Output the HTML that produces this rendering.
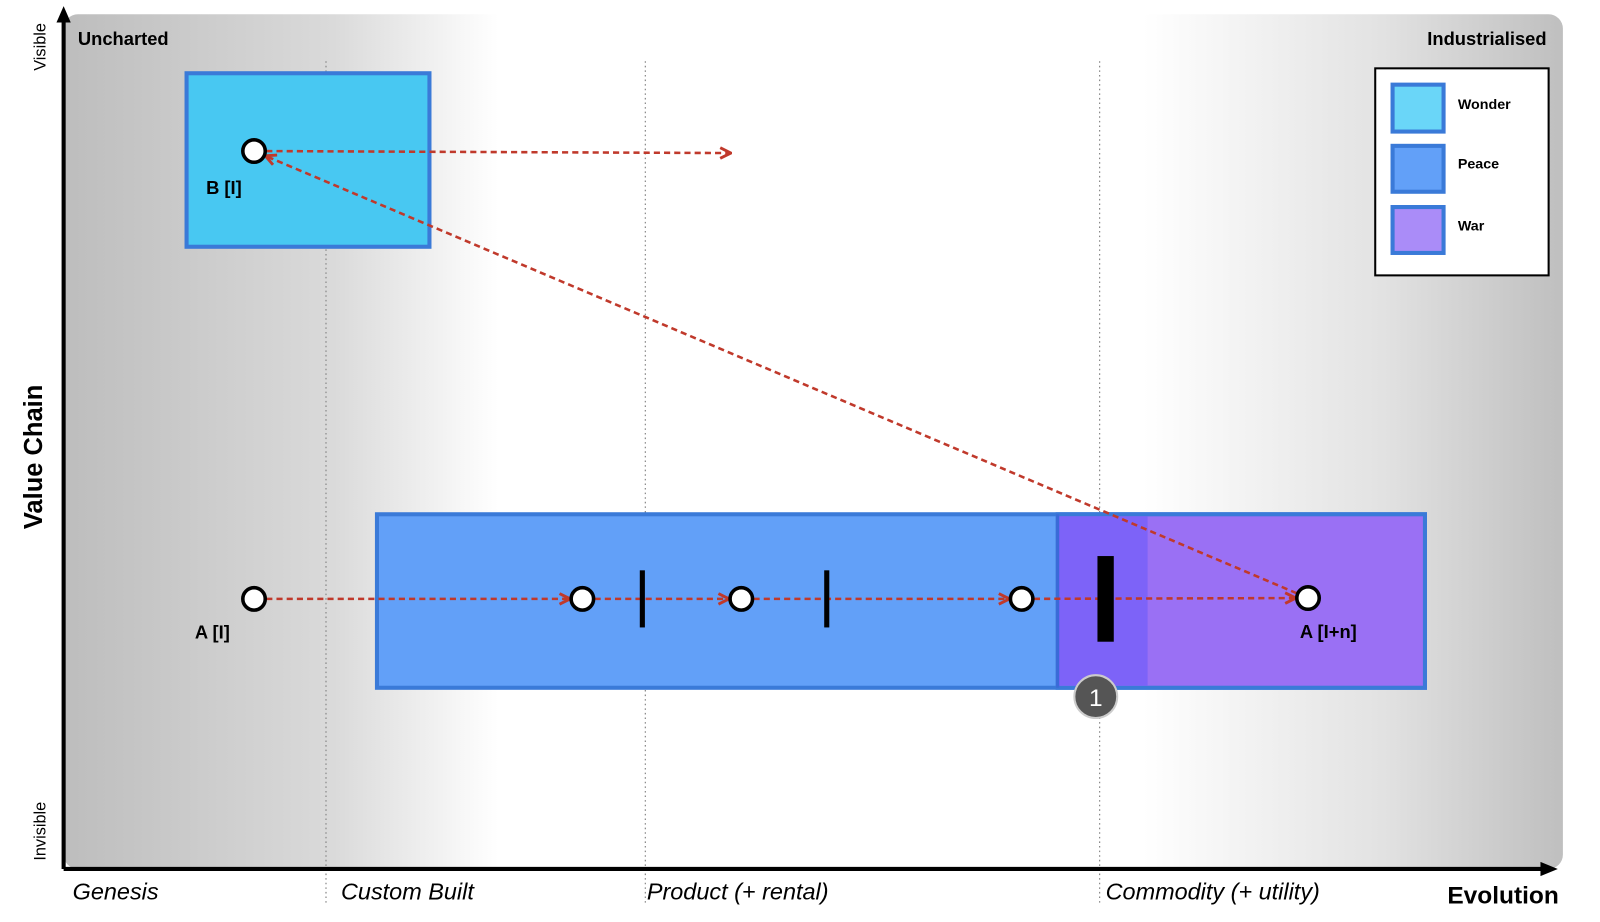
<!DOCTYPE html>
<html><head><meta charset="utf-8"><style>
html,body{margin:0;padding:0;background:#fff;}
svg{display:block;font-family:"Liberation Sans",sans-serif;}
</style></head><body>
<svg id="map" width="1600" height="922" viewBox="0 0 1568 904" xmlns="http://www.w3.org/2000/svg">
<defs>
<linearGradient id="bg" x1="0" x2="1" y1="0" y2="0">
<stop offset="0" stop-color="#bdbdbd"/><stop offset="0.18" stop-color="#dadada"/><stop offset="0.29" stop-color="#ffffff"/>
<stop offset="0.72" stop-color="#ffffff"/><stop offset="0.88" stop-color="#e2e2e2"/><stop offset="1" stop-color="#bfbfbf"/></linearGradient>
<marker id="ah" viewBox="0 0 10 10" refX="9" refY="5" markerWidth="13" markerHeight="13" orient="auto" markerUnits="userSpaceOnUse">
<path d="M1,1 L9,5 L1,9" fill="none" stroke="#c0392b" stroke-width="2.2"/></marker>
</defs>
<rect x="62" y="14" width="1470" height="838" rx="14" fill="url(#bg)"/>
<g id="grid"></g>
<g id="boxes"></g>
<g id="arrows"></g>
<g id="marks"></g>
<line x1="62" y1="852" x2="62" y2="14" stroke="#000" stroke-width="4"/>
<path d="M55,22 L62,6 L69,22 Z" fill="#000"/>
<line x1="62" y1="852" x2="1515" y2="852" stroke="#000" stroke-width="4"/>
<path d="M1510,845 L1527,852 L1510,859 Z" fill="#000"/>
<text x="76" y="44" font-size="18" font-weight="bold">Uncharted</text>
<text x="1516" y="44" font-size="18" font-weight="bold" text-anchor="end">Industrialised</text>
<text transform="translate(41,448) rotate(-90)" font-size="25" font-weight="bold" text-anchor="middle">Value Chain</text>
<text transform="translate(44,46) rotate(-90)" font-size="16" text-anchor="middle">Visible</text>
<text transform="translate(44,815) rotate(-90)" font-size="16" text-anchor="middle">Invisible</text>
<g id="xlabels" font-size="23" font-style="italic"></g>
<text x="1528" y="886" font-size="24" font-weight="bold" text-anchor="end">Evolution</text>
<g>
<rect x="1348" y="67" width="170" height="203" fill="#fff" stroke="#000" stroke-width="2"/>
<rect x="1365" y="83" width="50" height="46" fill="#6ad6f8" stroke="#3a7ad8" stroke-width="4"/>
<text x="1429" y="107" font-size="14" font-weight="bold">Wonder</text>
<rect x="1365" y="143" width="50" height="45" fill="#62a0f8" stroke="#3a7ad8" stroke-width="4"/>
<text x="1429" y="165" font-size="14" font-weight="bold">Peace</text>
<rect x="1365" y="203" width="50" height="45" fill="#aa8cf8" stroke="#3a7ad8" stroke-width="4"/>
<text x="1429" y="226" font-size="14" font-weight="bold">War</text>
</g>
</svg>
<script>
const stageLabels=["Genesis","Custom Built","Product (+ rental)","Commodity (+ utility)"];
const stageLabelX=[0.006,0.185,0.389,0.695];
const stageLineX=[0.175,0.388,0.691];
const nodeNames=["B [I]","A [I]","A2","A3","A4","A [I+n]"];
const nodeEvo=[0.127,0.127,0.346,0.452,0.639,0.83];
const nodeVis=[0.84,0.316,0.316,0.316,0.316,0.317];
const labelNames=["B [I]","A [I]","A [I+n]"];
const labelNodes=[0,1,5];
const barEvo=[0.386,0.509,0.695];
const boxNames=["wonder-box","peace-box","war-box","war-peace-overlap"];
const boxEvo0=[0.082,0.209,0.663,0.663];
const boxEvo1=[0.244,0.908,0.908,0.723];
const boxVis0=[0.728,0.212,0.212,0.212];
const boxVis1=[0.931,0.415,0.415,0.415];
const moveFrom=[0,1,2,3,4,5];
const moveTo=[-1,2,3,4,5,0];
const moveEndEvo=[0.445];
const X0=62,W=1470,Y0=852,H=838;
const sx=e=>X0+e*W, sy=v=>Y0-v*H;
const NS="http://www.w3.org/2000/svg";
function mk(t,a,p){const e=document.createElementNS(NS,t);for(const k in a)e.setAttribute(k,a[k]);p.appendChild(e);return e;}
const grid=document.getElementById('grid');
stageLineX.forEach((e,i)=>{const l=mk('line',{x1:sx(e),x2:sx(e),y1:60,y2:886,stroke:'#888','stroke-width':1.2,'stroke-dasharray':'1.5 3'},grid);

});
const xl=document.getElementById('xlabels');
stageLabels.forEach((s,i)=>{const t=mk('text',{x:sx(stageLabelX[i]),y:882},xl);t.textContent=s;

});
const bx=document.getElementById('boxes');
const fills=['#48c8f2','#62a0f8','#9a70f4','#7a62f8'];
boxNames.forEach((n,i)=>{const x=sx(boxEvo0[i]),y=sy(boxVis1[i]);const r=mk('rect',{x:x,y:y,width:sx(boxEvo1[i])-x,height:sy(boxVis0[i])-y,fill:fills[i],stroke:'#3a7ad8','stroke-width':i==3?0:4},bx);
if(i==3){r.setAttribute('y',y+2);r.setAttribute('height',sy(boxVis0[i])-y-4);r.setAttribute('opacity',0.9);}

});
const wb=mk('line',{x1:sx(boxEvo0[2]),x2:sx(boxEvo0[2]),y1:sy(boxVis1[2]),y2:sy(boxVis0[2]),stroke:'#3a6ad8','stroke-width':3},bx);


const ar=document.getElementById('arrows');
moveFrom.forEach((f,i)=>{const t=moveTo[i];const x1=sx(nodeEvo[f]),y1=sy(nodeVis[f]);let x2,y2;
if(t<0){x2=sx(moveEndEvo[0]);y2=y1+2;}else{x2=sx(nodeEvo[t]);y2=sy(nodeVis[t]);const dx=x2-x1,dy=y2-y1,d=Math.hypot(dx,dy);x2-=dx/d*12;y2-=dy/d*12;}
let sx1=x1,sy1=y1;{const dx=x2-x1,dy=y2-y1,d=Math.hypot(dx,dy);sx1=x1+dx/d*12;sy1=y1+dy/d*12;}
const l=mk('line',{x1:sx1,y1:sy1,x2:x2,y2:y2,stroke:'#c0392b','stroke-width':2.5,'stroke-dasharray':'6 4','marker-end':'url(#ah)'},ar);

});
const mkg=document.getElementById('marks');
barEvo.forEach((e,i)=>{const w=i==2?16:5,h=i==2?84:56;const r=mk('rect',{x:sx(e)-w/2,y:sy(0.316)-(i==2?42:28),width:w,height:h,fill:'#000'},mkg);

});
nodeEvo.forEach((e,i)=>{const c=mk('circle',{cx:sx(e),cy:sy(nodeVis[i]),r:11,fill:'#fff',stroke:'#000','stroke-width':3.5},mkg);

});
const labelDx=[-47,-58,-8];
labelNames.forEach((s,i)=>{const n=labelNodes[i];const t=mk('text',{x:sx(nodeEvo[n])+labelDx[i],y:sy(nodeVis[n])+(i==0?42:39),'font-size':18,'font-weight':'bold'},mkg);
t.textContent=s;

});
const bg=mk('g',{},mkg);


mk('circle',{cx:1074,cy:683,r:21,fill:'#555',stroke:'#ccc','stroke-width':2},bg);
const bt=mk('text',{x:1074,y:692,'font-size':24,fill:'#fff','text-anchor':'middle'},bg);bt.textContent='1';
</script>
</body></html>
